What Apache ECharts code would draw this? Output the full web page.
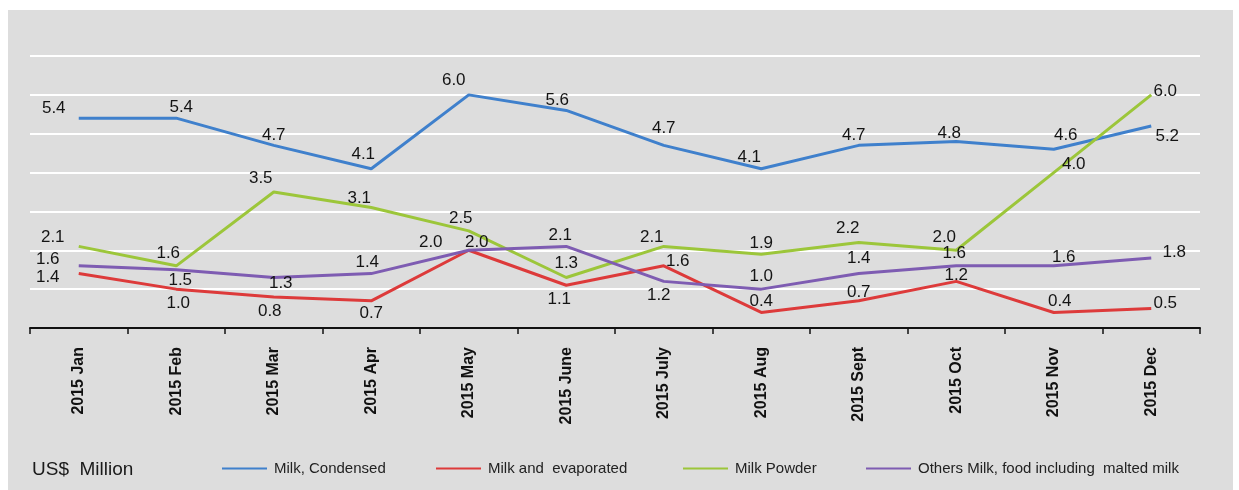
<!DOCTYPE html>
<html><head><meta charset="utf-8">
<script src="https://cdn.jsdelivr.net/npm/echarts@6/dist/echarts.min.js"></script>
<style>html,body{margin:0;padding:0;background:#fff;}#c{width:1239px;height:490px;}</style>
</head><body><div id="c"></div>
<script>
// ---- data ----
const categories = ['2015 Jan','2015 Feb','2015 Mar','2015 Apr','2015 May','2015 June','2015 July','2015 Aug','2015 Sept','2015 Oct','2015 Nov','2015 Dec'];
const seriesNames = ['Milk, Condensed','Milk and  evaporated','Milk Powder','Others Milk, food including  malted milk'];
const milkCondensed = [5.4,5.4,4.7,4.1,6.0,5.6,4.7,4.1,4.7,4.8,4.6,5.2];
const milkEvaporated = [1.4,1.0,0.8,0.7,2.0,1.1,1.6,0.4,0.7,1.2,0.4,0.5];
const milkPowder = [2.1,1.6,3.5,3.1,2.5,1.3,2.1,1.9,2.2,2.0,4.0,6.0];
const othersMilk = [1.6,1.5,1.3,1.4,2.0,2.1,1.2,1.0,1.4,1.6,1.6,1.8];
const unitLabel = 'US$  Million';

// ---- styling (label offsets in px, relative to each point) ----
const colors = ['#3f80cc','#dd3a3a','#9cc63a','#7e5cb2'];
const labelOffsets = [
  [[-25,-10],[5,-11],[0,-10],[-8,-14],[-15,-15],[-9,-10],[0,-17],[-12,-11],[-5,-10],[-7,-8],[12,-14],[16,10]],
  [[-31,4],[2,14],[-4,14],[0,13],[-38,-8],[-7,14],[14,-5],[0,-11],[0,-8],[0,-6],[6,-11],[14,-5]],
  [[-26,-9],[-8,-13],[-13,-14],[-12,-9],[-8,-13],[0,-14],[-12,-9],[0,-11],[-11,-14],[-12,-13],[20,-8],[14,-4]],
  [[-31,-7],[4,11],[7,6],[-4,-11],[8,-8],[-6,-11],[-5,14],[0,-13],[0,-15],[-2,-13],[10,-9],[23,-6]]
];
const legendLefts = [217,431,678,861];
const allData = [milkCondensed, milkEvaporated, milkPowder, othersMilk];

const chart = echarts.init(document.getElementById('c'), null, {renderer:'canvas'});
const font = "'Liberation Sans', Arial, sans-serif";

const series = allData.map((vals, si) => ({
  name: seriesNames[si],
  type: 'line',
  data: vals.map((v, i) => ({
    value: v,
    label: { offset: labelOffsets[si][i] }
  })),
  symbol: 'circle',
  symbolSize: 0.1,
  showSymbol: true,
  z: 3 + si,
  lineStyle: { color: colors[si], width: 3 },
  itemStyle: { color: colors[si] },
  emphasis: { disabled: true },
  label: {
    show: true,
    position: 'inside',
    formatter: p => p.value.toFixed(1),
    fontFamily: font,
    fontSize: 17,
    color: '#141414',
    align: 'center',
    verticalAlign: 'middle'
  },
  animation: false
}));

const legends = seriesNames.map((n, i) => ({
  data: [n],
  left: legendLefts[i],
  top: 456,
  icon: 'rect',
  itemWidth: 45,
  itemHeight: 2,
  selectedMode: false,
  textStyle: { fontFamily: font, fontSize: 15, color: '#222', padding: [0,0,0,2] }
}));

chart.setOption({
  animation: false,
  backgroundColor: '#ffffff',
  graphic: [{
    type: 'rect', z: -10, silent: true,
    shape: { x: 8, y: 10, width: 1225, height: 480 },
    style: { fill: '#dddddd' }
  }],
  title: {
    text: unitLabel, left: 27, top: 455,
    textStyle: { fontFamily: font, fontSize: 19, fontWeight: 'normal', color: '#1a1a1a' }
  },
  legend: legends,
  grid: { left: 30, right: 39, top: 56, bottom: 162, containLabel: false },
  xAxis: {
    type: 'category',
    data: categories,
    boundaryGap: true,
    axisLine: { show: true, lineStyle: { color: '#111', width: 2 } },
    axisTick: { show: true, length: 6, lineStyle: { color: '#111', width: 1.5 } },
    axisLabel: {
      rotate: 90, margin: 19, interval: 0,
      fontFamily: font, fontSize: 16, fontWeight: 'bold', color: '#111'
    },
    splitLine: { show: false }
  },
  yAxis: {
    type: 'value', min: 0, max: 7, interval: 1,
    axisLine: { show: false }, axisTick: { show: false }, axisLabel: { show: false },
    splitLine: { show: true, lineStyle: { color: '#ffffff', width: 2 } }
  },
  series: series
});
</script>
</body></html>
